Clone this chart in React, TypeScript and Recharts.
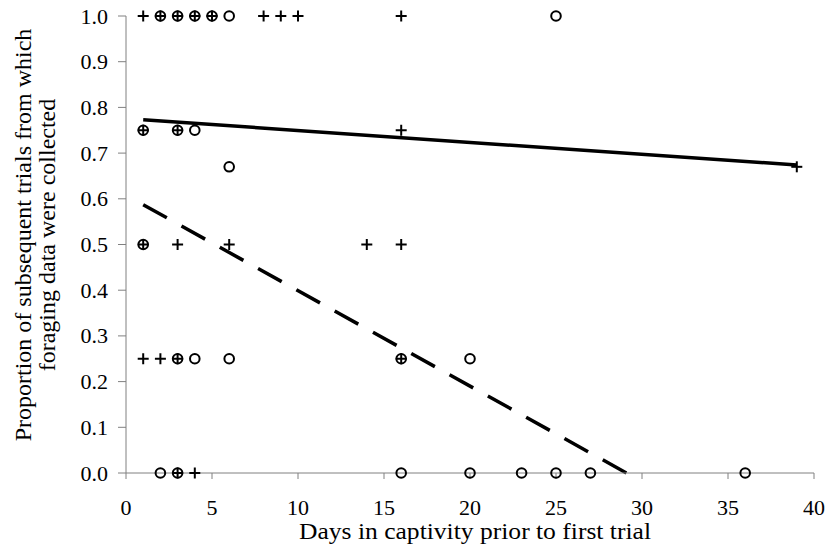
import React from "react";
import { ComposedChart, XAxis, YAxis, Scatter, Line, Label } from "recharts";

// Series "+" (days in captivity, proportion)
const crossDays = [1, 2, 3, 4, 5, 8, 9, 10, 16, 1, 3, 16, 39, 1, 3, 6, 14, 16, 1, 2, 3, 16, 3, 4];
const crossProps = [1, 1, 1, 1, 1, 1, 1, 1, 1, 0.75, 0.75, 0.75, 0.67, 0.5, 0.5, 0.5, 0.5, 0.5, 0.25, 0.25, 0.25, 0.25, 0, 0];

// Series "o"
const circleDays = [2, 3, 4, 5, 6, 25, 1, 3, 4, 6, 1, 3, 4, 6, 16, 20, 2, 3, 16, 20, 23, 25, 27, 36];
const circleProps = [1, 1, 1, 1, 1, 1, 0.75, 0.75, 0.75, 0.67, 0.5, 0.25, 0.25, 0.25, 0.25, 0.25, 0, 0, 0, 0, 0, 0, 0, 0];

// Trend lines (endpoints)
const solidTrendDays = [1, 39];
const solidTrendValues = [0.773, 0.674];
const dashedTrendDays = [1, 29.1];
const dashedTrendValues = [0.587, 0];

const xTicks = [0, 5, 10, 15, 20, 25, 30, 35, 40];
const yTicks = [0, 0.1, 0.2, 0.3, 0.4, 0.5, 0.6, 0.7, 0.8, 0.9, 1.0];

const xTitle = "Days in captivity prior to first trial";
const yTitleLines = ["Proportion of subsequent trials from which", "foraging data were collected"];

const zip = (xs: number[], ys: number[]) => xs.map((x, i) => ({ x, y: ys[i] }));
const crossData = zip(crossDays, crossProps);
const circleData = zip(circleDays, circleProps);
const solidTrend = zip(solidTrendDays, solidTrendValues);
const dashedTrend = zip(dashedTrendDays, dashedTrendValues);

const FONT = "'Liberation Serif', 'Times New Roman', serif";
const tickStyle = { fontFamily: FONT, fontSize: 22 };
const titleStyle = { fontFamily: FONT, fontSize: 24 };

const CrossShape = (props: any) => {
  const { cx, cy } = props;
  const h = 5.5;
  return (
    <g stroke="#000" strokeWidth={2} fill="none">
      <line x1={cx - h} y1={cy} x2={cx + h} y2={cy} />
      <line x1={cx} y1={cy - h} x2={cx} y2={cy + h} />
    </g>
  );
};

const CircleShape = (props: any) => {
  const { cx, cy } = props;
  return <circle cx={cx} cy={cy} r={4.8} stroke="#000" strokeWidth={2} fill="none" />;
};

const renderXTick = (props: any) => {
  const { x, y, payload } = props;
  return (
    <text x={x} y={y + 16} textAnchor="middle" style={tickStyle} fill="#000" stroke="none">
      {String(payload.value)}
    </text>
  );
};

const renderYTick = (props: any) => {
  const { x, y, payload } = props;
  return (
    <text x={x} y={y + 7.5} textAnchor="end" style={tickStyle} fill="#000" stroke="none">
      {Number(payload.value).toFixed(1)}
    </text>
  );
};

const YTitle = (props: any) => {
  const vb = props.viewBox || { x: 0, y: 16, width: 126, height: 457 };
  const cy = vb.y + vb.height / 2 - 9.5;
  const xs = [31, 55];
  return (
    <g>
      {yTitleLines.map((t, i) => (
        <text
          key={i}
          x={xs[i]}
          y={cy}
          transform={`rotate(-90, ${xs[i]}, ${cy})`}
          textAnchor="middle"
          style={titleStyle}
          fill="#000"
        >
          {t}
        </text>
      ))}
    </g>
  );
};

const XTitle = (props: any) => {
  const vb = props.viewBox || { x: 126, y: 473, width: 688, height: 78 };
  return (
    <text
      x={vb.x + vb.width / 2 + 5}
      y={vb.y + 66}
      textAnchor="middle"
      style={titleStyle}
      fill="#000"
      textLength={352}
      lengthAdjust="spacingAndGlyphs"
    >
      {xTitle}
    </text>
  );
};

export default function App() {
  return (
    <div style={{ position: "absolute", left: 0, top: 0, background: "#fff", fontFamily: FONT }}>
      <ComposedChart
        width={828}
        height={551}
        margin={{ top: 16, right: 14, bottom: 0, left: 0 }}
      >
        <XAxis
          type="number"
          dataKey="x"
          domain={[0, 40]}
          ticks={xTicks}
          interval={0}
          height={78}
          tickSize={6}
          tickMargin={20}
          axisLine={{ stroke: "#808080", strokeWidth: 1 }}
          tickLine={{ stroke: "#808080", strokeWidth: 1 }}
          tick={renderXTick}
        >
          <Label content={XTitle} />
        </XAxis>
        <YAxis
          type="number"
          dataKey="y"
          domain={[0, 1]}
          ticks={yTicks}
          interval={0}
          width={126}
          tickSize={8}
          tickMargin={10}
          axisLine={{ stroke: "#808080", strokeWidth: 1 }}
          tickLine={{ stroke: "#808080", strokeWidth: 1 }}
          tick={renderYTick}
        >
          <Label content={YTitle} />
        </YAxis>
        <Line
          data={solidTrend}
          dataKey="y"
          type="linear"
          stroke="#000"
          strokeWidth={3.5}
          dot={false}
          activeDot={false}
          isAnimationActive={false}
        />
        <Line
          data={dashedTrend}
          dataKey="y"
          type="linear"
          stroke="#000"
          strokeWidth={3.5}
          strokeDasharray="27 16.8"
          dot={false}
          activeDot={false}
          isAnimationActive={false}
        />
        <Scatter data={circleData} dataKey="y" shape={CircleShape} isAnimationActive={false} />
        <Scatter data={crossData} dataKey="y" shape={CrossShape} isAnimationActive={false} />
      </ComposedChart>
    </div>
  );
}
